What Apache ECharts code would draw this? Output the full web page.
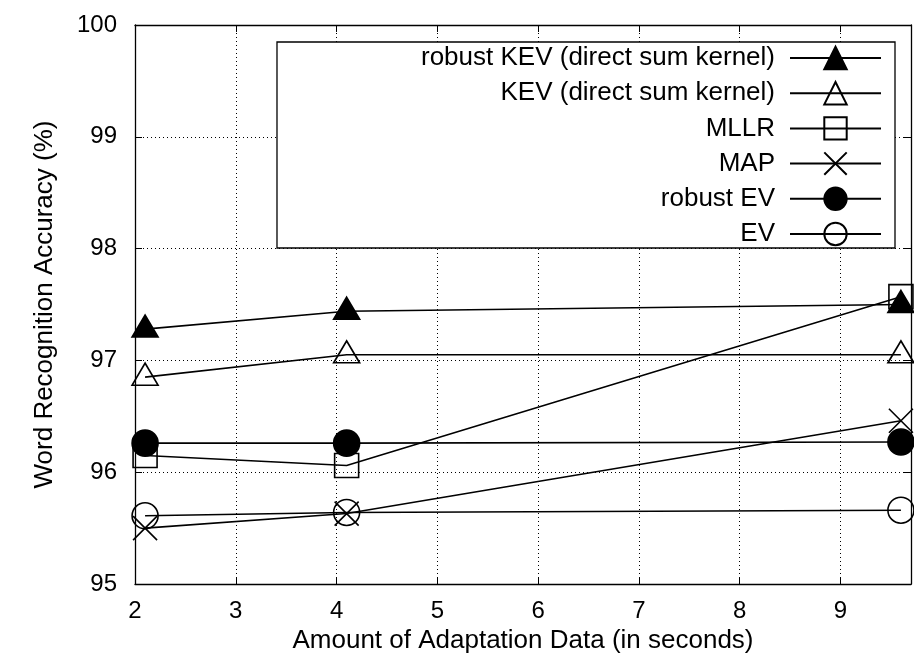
<!DOCTYPE html>
<html><head><meta charset="utf-8">
<script src="https://cdn.jsdelivr.net/npm/echarts@6/dist/echarts.min.js"></script>
<style>html,body{margin:0;padding:0;background:#fff}#c{width:914px;height:666px}</style>
</head><body><div id="c"></div>
<script>
const xValues = [2.1, 4.1, 9.6];
const robustKEV = [97.28, 97.44, 97.50];
const KEV = [96.85, 97.05, 97.05];
const MLLR = [96.15, 96.06, 97.57];
const MAP = [95.50, 95.63, 96.46];
const robustEV = [96.26, 96.26, 96.27];
const EV = [95.61, 95.64, 95.66];
const seriesNames = ['robust KEV (direct sum kernel)', 'KEV (direct sum kernel)', 'MLLR', 'MAP', 'robust EV', 'EV'];

const FONT = 'Liberation Sans, Arial, Helvetica, sans-serif';
const crossPath = 'path://M0,0L10,10M10,0L0,10';
function mk(name, vals, symbol, filled, size, offset) {
  return {
    name: name, type: 'line',
    data: xValues.map((x, i) => [x, vals[i]]),
    symbol: symbol, symbolSize: size, symbolOffset: offset || [0, 0],
    showAllSymbol: true,
    lineStyle: {color: '#000', width: 1.6},
    itemStyle: {color: filled ? '#000' : 'transparent', borderColor: '#000', borderWidth: 1.6},
    emphasis: {disabled: true},
    z: 3
  };
}
const chart = echarts.init(document.getElementById('c'), null, {renderer: 'canvas'});
const axisCommon = {
  axisLine: {show: true, lineStyle: {color: '#000', width: 1.3}},
  axisTick: {show: true, inside: true, length: 7, lineStyle: {color: '#000'}},
};
chart.setOption({
  animation: false,
  grid: {left: 135, top: 25, right: 1, bottom: 82, containLabel: false},
  legend: {
    orient: 'vertical', right: 19, top: 42, align: 'right',
    itemWidth: 91, itemHeight: 28, itemGap: 7.2 + 2,
    textStyle: {fontFamily: FONT, fontSize: 26, color: '#000', padding: [0, 10, 0, 0]},
    backgroundColor: '#fff', borderColor: '#000', borderWidth: 1.3,
    padding: [3, 13, 1, 144],
    selectedMode: false,
    data: seriesNames
  },
  xAxis: [{
    type: 'value', min: 2, max: 9.7, interval: 1, position: 'bottom',
    name: 'Amount of Adaptation Data (in seconds)', nameLocation: 'middle', nameGap: 40,
    nameTextStyle: {fontFamily: FONT, fontSize: 26, color: '#000'},
    axisLabel: {fontFamily: FONT, fontSize: 24, color: '#000', margin: 15,
      formatter: v => (Math.abs(v - Math.round(v)) < 1e-6 ? String(Math.round(v)) : '')},
    splitLine: {show: true, lineStyle: {color: '#000', type: [1, 3], width: 1}},
    ...axisCommon
  }, {
    type: 'value', min: 2, max: 9.7, interval: 1, position: 'top',
    axisLabel: {show: false}, splitLine: {show: false}, ...axisCommon
  }],
  yAxis: [{
    type: 'value', min: 95, max: 100, interval: 1, position: 'left',
    name: 'Word Recognition Accuracy (%)', nameLocation: 'middle', nameGap: 77,
    nameTextStyle: {fontFamily: FONT, fontSize: 26, color: '#000'},
    axisLabel: {fontFamily: FONT, fontSize: 24, color: '#000', margin: 18},
    splitLine: {show: true, lineStyle: {color: '#000', type: [1, 3], width: 1}},
    ...axisCommon
  }, {
    type: 'value', min: 95, max: 100, interval: 1, position: 'right',
    axisLabel: {show: false}, splitLine: {show: false}, ...axisCommon
  }],
  series: [
    mk(seriesNames[0], robustKEV, 'triangle', true, [26, 22], [0, -3]),
    mk(seriesNames[1], KEV, 'triangle', false, [26, 22], [0, -3]),
    mk(seriesNames[2], MLLR, 'rect', false, 24),
    mk(seriesNames[3], MAP, crossPath, false, 24),
    mk(seriesNames[4], robustEV, 'circle', true, 26),
    mk(seriesNames[5], EV, 'circle', false, 26)
  ]
});
</script></body></html>
